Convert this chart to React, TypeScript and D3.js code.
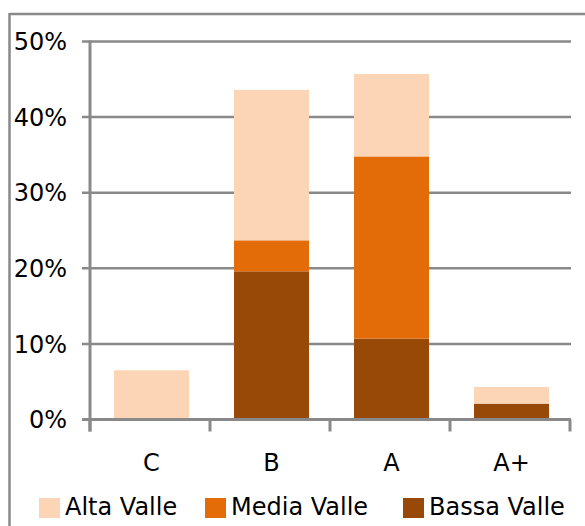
import React from "react";
import * as d3 from "d3";

const categories = ["C", "B", "A", "A+"];
const seriesNames = ["Bassa Valle", "Media Valle", "Alta Valle"];
const bassaValle = [0, 19.6, 10.7, 2.1];
const mediaValle = [0, 4.1, 24.1, 0];
const altaValle = [6.5, 19.9, 10.9, 2.2];
const yTicks = [0, 10, 20, 30, 40, 50];
const legendOrder = ["Alta Valle", "Media Valle", "Bassa Valle"];

const colors: Record<string, string> = {
  "Alta Valle": "#FBD5B5",
  "Media Valle": "#E36C09",
  "Bassa Valle": "#984807",
};

const W = 585;
const H = 526;
const plot = { left: 90, right: 570, top: 41.5, bottom: 419.5 };
const gridColor = "#898989";
const font = "'DejaVu Sans', Verdana, sans-serif";
const fontSize = 24;

export default function App() {
  const rows = categories.map((c, i) => ({
    cat: c,
    "Bassa Valle": bassaValle[i],
    "Media Valle": mediaValle[i],
    "Alta Valle": altaValle[i],
  }));
  const stacked = d3.stack<any>().keys(seriesNames)(rows);

  const x = d3
    .scaleBand<string>()
    .domain(categories)
    .range([plot.left + 1.5, plot.right + 1.5])
    .paddingInner(0.375)
    .paddingOuter(0.1875);
  const y = d3.scaleLinear().domain([0, 50]).range([plot.bottom, plot.top]);

  const step = (plot.right - plot.left) / categories.length;
  const boundaries = d3.range(categories.length + 1).map((i) => plot.left + i * step);

  const legendX = [39, 205, 403];

  return (
    <svg
      width={W}
      height={H}
      style={{ position: "absolute", left: 0, top: 0, background: "#fff" }}
    >
      <rect x={0} y={0} width={W} height={H} fill="#fff" />
      {/* outer frame */}
      <line x1={9.5} y1={14} x2={W} y2={14} stroke={gridColor} strokeWidth={2.5} />
      <line x1={9.5} y1={13} x2={9.5} y2={H} stroke={gridColor} strokeWidth={2.5} />

      {/* gridlines + y ticks */}
      {yTicks.map((t) => (
        <g key={t}>
          <line
            x1={plot.left - 8}
            x2={plot.right + 1}
            y1={y(t)}
            y2={y(t)}
            stroke={gridColor}
            strokeWidth={2.5}
          />
          <text
            x={67}
            y={y(t)}
            dy="0.36em"
            textAnchor="end"
            fontFamily={font}
            fontSize={fontSize}
            fill="#000"
          >
            {`${t}%`}
          </text>
        </g>
      ))}

      {/* bars */}
      {stacked.map((layer) => (
        <g key={layer.key} fill={colors[layer.key]}>
          {layer.map((d, i) =>
            d[1] - d[0] > 0 ? (
              <rect
                key={i}
                x={x(categories[i])}
                y={y(d[1])}
                width={x.bandwidth()}
                height={y(d[0]) - y(d[1])}
              />
            ) : null
          )}
        </g>
      ))}

      {/* axes */}
      <line
        x1={plot.left}
        x2={plot.left}
        y1={plot.top - 1}
        y2={plot.bottom + 12}
        stroke={gridColor}
        strokeWidth={3}
      />
      <line
        x1={plot.left - 8}
        x2={plot.right + 1}
        y1={plot.bottom}
        y2={plot.bottom}
        stroke={gridColor}
        strokeWidth={3}
      />
      {boundaries.map((bx, i) => (
        <line
          key={i}
          x1={bx}
          x2={bx}
          y1={plot.bottom}
          y2={plot.bottom + 12}
          stroke={gridColor}
          strokeWidth={3}
        />
      ))}
      {categories.map((c) => (
        <text
          key={c}
          x={(x(c) ?? 0) + x.bandwidth() / 2}
          y={471}
          textAnchor="middle"
          fontFamily={font}
          fontSize={fontSize}
          fill="#000"
        >
          {c}
        </text>
      ))}

      {/* legend */}
      {legendOrder.map((name, i) => (
        <g key={name} transform={`translate(${legendX[i]},498)`}>
          <rect x={0} y={0} width={21} height={20} fill={colors[name]} />
          <text x={26} y={17} fontFamily={font} fontSize={fontSize} fill="#000">
            {name}
          </text>
        </g>
      ))}
    </svg>
  );
}
